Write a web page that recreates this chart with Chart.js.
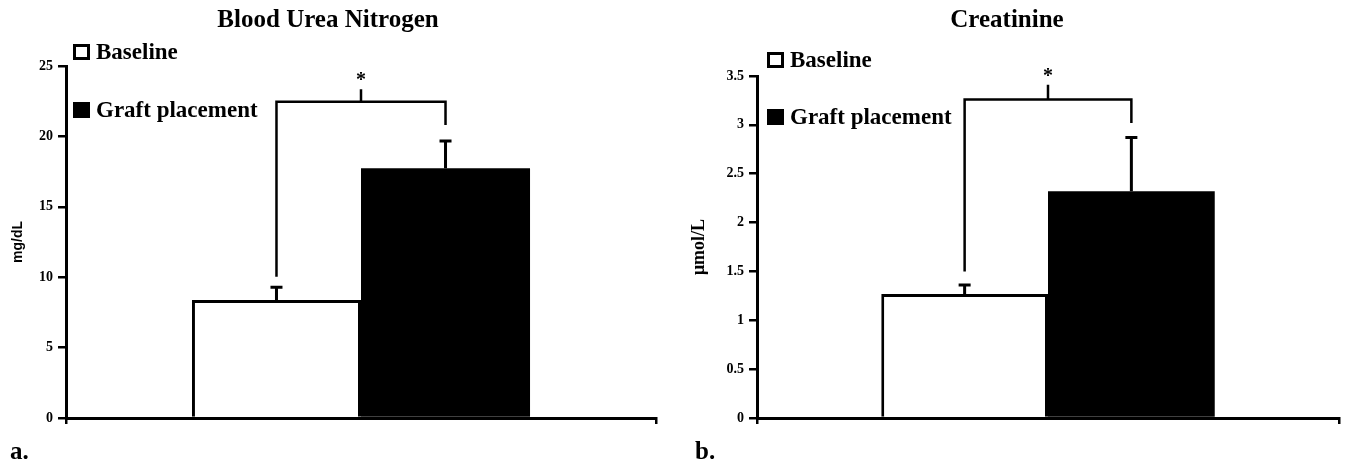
<!DOCTYPE html>
<html>
<head>
<meta charset="utf-8">
<script src="https://cdn.jsdelivr.net/npm/chart.js@4.4.1/dist/chart.umd.min.js"></script>
<style>
  body { margin: 0; background: #fff; width: 1349px; height: 466px; overflow: hidden; position: relative; }
  canvas { position: absolute; top: 0; }
  #graficoA { left: 0; }
  #graficoB { left: 675px; }
  .panel { position: absolute; font: bold 25px "Liberation Serif"; color: #000; line-height: 1; }
</style>
</head>
<body>
<canvas id="graficoA" width="660" height="466"></canvas>
<canvas id="graficoB" width="674" height="466"></canvas>
<div class="panel" style="left:10px; top:438px;">a.</div>
<div class="panel" style="left:695px; top:438px;">b.</div>

<script>
const grupos = ["Baseline", "Graft placement"];

// Blood Urea Nitrogen (mg/dL)
const bunMedia = [8.38, 17.73];
const bunError = [0.9, 1.94];
const bunTicks = [0, 5, 10, 15, 20, 25];
// pie izquierdo, pie derecho, barra horizontal, punta central
const bunLlave = [10.04, 20.81, 22.46, 23.35];

// Creatinine (μmol/L)
const creMedia = [1.27, 2.32];
const creError = [0.09, 0.55];
const creTicks = [0, 0.5, 1, 1.5, 2, 2.5, 3, 3.5];
const creLlave = [1.5, 3.02, 3.26, 3.41];

const serif = "'Liberation Serif', 'Times New Roman', serif";

const crearGrafico = (idCanvas, cfg) => {
  const extras = {
    id: "extras_" + idCanvas,
    afterDatasetsDraw(chart) {
      const ctx = chart.ctx;
      const y = chart.scales.y;
      const barras = chart.data.datasets.map((d, i) => chart.getDatasetMeta(i).data[0]);
      ctx.save();
      ctx.strokeStyle = "#000";
      ctx.fillStyle = "#000";

      // barras de error (solo hacia arriba)
      ctx.lineWidth = 3;
      barras.forEach((b, i) => {
        const tope = y.getPixelForValue(cfg.media[i] + cfg.error[i]);
        ctx.beginPath();
        ctx.moveTo(b.x, b.y);
        ctx.lineTo(b.x, tope);
        ctx.moveTo(b.x - 6, tope);
        ctx.lineTo(b.x + 6, tope);
        ctx.stroke();
      });

      // llave de significancia
      const [pieIzq, pieDer, alto, punta] = cfg.llave.map((v) => y.getPixelForValue(v));
      const x1 = barras[0].x;
      const x2 = barras[1].x;
      const xm = (x1 + x2) / 2;
      ctx.lineWidth = 2.5;
      ctx.beginPath();
      ctx.moveTo(x1, pieIzq);
      ctx.lineTo(x1, alto);
      ctx.lineTo(x2, alto);
      ctx.lineTo(x2, pieDer);
      ctx.moveTo(xm, alto);
      ctx.lineTo(xm, punta);
      ctx.stroke();

      ctx.font = "bold 20px " + serif;
      ctx.textAlign = "center";
      ctx.textBaseline = "alphabetic";
      ctx.fillText("*", xm, punta - 3);
      ctx.restore();
    },
    afterDraw(chart) {
      // leyenda dentro del area del grafico
      const ctx = chart.ctx;
      const area = chart.chartArea;
      ctx.save();
      chart.data.datasets.forEach((d, i) => {
        const x0 = area.left + cfg.leyenda.dx;
        const cy = area.top + cfg.leyenda.dy[i];
        ctx.fillStyle = "#000";
        ctx.fillRect(x0, cy - 8, 17, 16);
        if (d.backgroundColor === "#ffffff") {
          ctx.fillStyle = "#fff";
          ctx.fillRect(x0 + 3, cy - 5, 11, 10);
        }
        ctx.fillStyle = "#000";
        ctx.font = "bold 23px " + serif;
        ctx.textAlign = "left";
        ctx.textBaseline = "middle";
        ctx.fillText(d.label, x0 + 23, cy + 1);
      });
      ctx.restore();
    },
  };

  return new Chart(document.getElementById(idCanvas), {
    type: "bar",
    data: {
      labels: [""],
      datasets: grupos.map((g, i) => ({
        label: g,
        data: [cfg.media[i]],
        backgroundColor: i ? "#000000" : "#ffffff",
        borderColor: "#000",
        borderWidth: i ? 0 : 3,
        borderSkipped: "bottom",
        categoryPercentage: 0.573,
        barPercentage: 1,
      })),
    },
    options: {
      responsive: false,
      animation: false,
      devicePixelRatio: 1,
      layout: { padding: { left: 0, right: cfg.derecha, top: 0, bottom: 0 } },
      plugins: {
        legend: { display: false },
        tooltip: { enabled: false },
        title: {
          display: true,
          text: cfg.titulo,
          color: "#000",
          font: { family: serif, size: 25, weight: "bold" },
          padding: { top: 6, bottom: cfg.tituloAbajo },
        },
      },
      scales: {
        x: {
          grid: { display: true, drawOnChartArea: false, offset: true, tickLength: 6, lineWidth: 2.5, color: "#000" },
          border: { display: true, width: 3, color: "#000" },
          ticks: { display: false },
          afterFit: (s) => { s.height = 48; },
        },
        y: {
          min: 0,
          max: cfg.ticks[cfg.ticks.length - 1],
          afterBuildTicks: (s) => { s.ticks = cfg.ticks.map((v) => ({ value: v })); },
          ticks: {
            color: "#000",
            padding: 5,
            font: { family: serif, size: 14, weight: "bold" },
            callback: (v) => String(v),
          },
          grid: { drawOnChartArea: false, tickLength: 8, lineWidth: 2.5, color: "#000" },
          border: { width: 3, color: "#000" },
          title: {
            display: true,
            text: cfg.unidad,
            color: "#000",
            font: cfg.fuenteUnidad,
            padding: { top: cfg.unidadPad, bottom: 0 },
          },
          afterFit: (s) => { s.width = cfg.ejeAncho; },
        },
      },
    },
    plugins: [extras],
  });
};

crearGrafico("graficoA", {
  titulo: "Blood Urea Nitrogen",
  unidad: "mg/dL",
  fuenteUnidad: { family: "'Liberation Sans', Arial, sans-serif", size: 14, weight: "bold" },
  unidadPad: 10,
  media: bunMedia,
  error: bunError,
  ticks: bunTicks,
  llave: bunLlave,
  ejeAncho: 66,
  derecha: 4,
  tituloAbajo: 30,
  leyenda: { dx: 7, dy: [-14, 44] },
});

crearGrafico("graficoB", {
  titulo: "Creatinine",
  unidad: "μmol/L",
  fuenteUnidad: { family: serif, size: 18, weight: "bold" },
  unidadPad: 14,
  media: creMedia,
  error: creError,
  ticks: creTicks,
  llave: creLlave,
  ejeAncho: 82,
  derecha: 10,
  tituloAbajo: 40,
  leyenda: { dx: 10, dy: [-16, 41] },
});
</script>
</body>
</html>
